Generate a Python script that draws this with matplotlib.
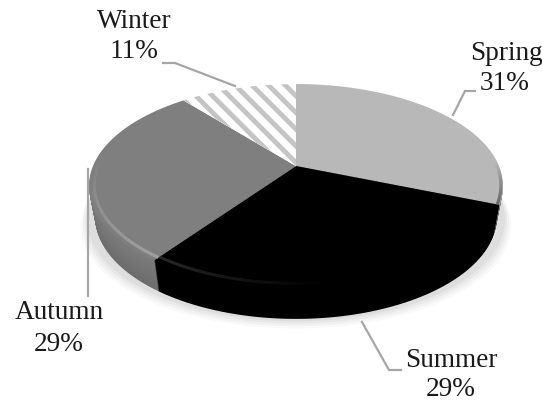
import numpy as np
import matplotlib
matplotlib.use("Agg")
import matplotlib.pyplot as plt

plt.rcParams["font.family"] = ["Liberation Serif", "DejaVu Serif"]
plt.rcParams["hatch.linewidth"] = 3.5
plt.rcParams["hatch.color"] = "#c4c4c4"

# data
seasons = ["Spring", "Summer", "Autumn", "Winter"]
shares = [31, 29, 29, 11]
top_colors = ["#b8b8b8", "#000000", "#7f7f7f", "#ffffff"]
side_dark = ["#4a4a4a", "#000000", "#6c6c6c", "#dddddd"]
side_light = ["#8a8a8a", "#000000", "#7c7c7c", "#eeeeee"]

# pie geometry in pixels
CX, CY = 296, 167
K, A, C = 203, 98, -0.196   # perspective of the tilted disc
DEPTH = 31


def project(theta, r=1.0):
    # theta in degrees, clockwise from the top
    t = np.radians(theta)
    u = r * np.sin(t)
    v = -r * np.cos(t)
    w = 1 + C * v
    return CX + K * u / w, CY + A * v / w


def wedge(a0, a1, shift=0.0):
    # lower layers of the wall get slightly narrower
    th = np.linspace(a0, a1, 120)
    x, y = project(th)
    x = CX + (x - CX) * (1 - 0.03 * shift / DEPTH)
    x = np.r_[CX, x]
    y = np.r_[CY, y] + shift
    return x, y


fig = plt.figure(figsize=(5.42, 4.02), dpi=100)
ax = fig.add_axes([0, 0, 1, 1])
ax.set_xlim(0, 542)
ax.set_ylim(402, 0)
ax.axis("off")

# soft shadow under the disc
th = np.linspace(0, 360, 361)
for grow, alpha in [(12, 0.025), (9, 0.03), (6, 0.035), (3, 0.04)]:
    x, y = project(th)
    ax.fill(CX + (x - CX) * (1 + grow / 300), y + DEPTH + grow * 0.8, color="#000000", alpha=alpha, lw=0)

edges = np.cumsum([0] + shares) * 3.6

# side walls, stacked from the bottom up
for i in [3, 0, 2, 1]:
    c0 = np.array(matplotlib.colors.to_rgb(side_dark[i]))
    c1 = np.array(matplotlib.colors.to_rgb(side_light[i]))
    for d in range(DEPTH, 0, -1):
        f = 1 - d / DEPTH
        x, y = wedge(edges[i], edges[i + 1], d)
        ax.fill(x, y, color=c0 + (c1 - c0) * f, lw=0)

# top faces
for i in range(4):
    x, y = wedge(edges[i], edges[i + 1])
    ax.fill(x, y, color=top_colors[i], lw=0)
    if seasons[i] == "Winter":
        ax.fill(x, y, facecolor="#ffffff", edgecolor="#c4c4c4", hatch="\\\\", lw=0)

# bevel on the rim: colour, radius, alpha at start and end of the arc
bevels = [
    (edges[2], 275, "#a8a8a8", 0.975, 0.85, 0.0),
    (172, edges[2], "#4a4a4a", 0.97, 0.0, 0.55),
    (88, edges[1], "#4a4a4a", 0.99, 0.0, 0.9),
]
for a0, a1, col, r, al0, al1 in bevels:
    th = np.linspace(a0, a1, 60)
    x, y = project(th, r)
    for j in range(len(th) - 1):
        f = j / (len(th) - 1)
        ax.plot(x[j:j + 2], y[j:j + 2], color=col, lw=2.2, alpha=al0 + (al1 - al0) * f, solid_capstyle="butt")

# leader lines
leaders = {
    "Spring": ([475, 465, 453], [92, 92, 116]),
    "Summer": ([362, 389, 401], [323, 371, 371]),
    "Autumn": ([87.5, 87.5], [170, 297]),
    "Winter": ([163, 175, 235], [64, 64, 87]),
}
for s in seasons:
    ax.plot(leaders[s][0], leaders[s][1], color="#a6a6a6", lw=1.6, solid_joinstyle="miter")

# labels
pos = {"Spring": (506, 53), "Summer": (451, 361), "Autumn": (59, 313), "Winter": (134, 22)}
pos2 = {"Spring": (505, 83), "Summer": (451, 390), "Autumn": (59, 345), "Winter": (134, 52)}
for s, v in zip(seasons, shares):
    ax.text(*pos[s], s, fontsize=19.6, ha="center", va="center", color="#1a1a1a")
    ax.text(*pos2[s], f"{v}%", fontsize=19.6, ha="center", va="center", color="#1a1a1a")

fig.savefig("out.png", dpi=100)
